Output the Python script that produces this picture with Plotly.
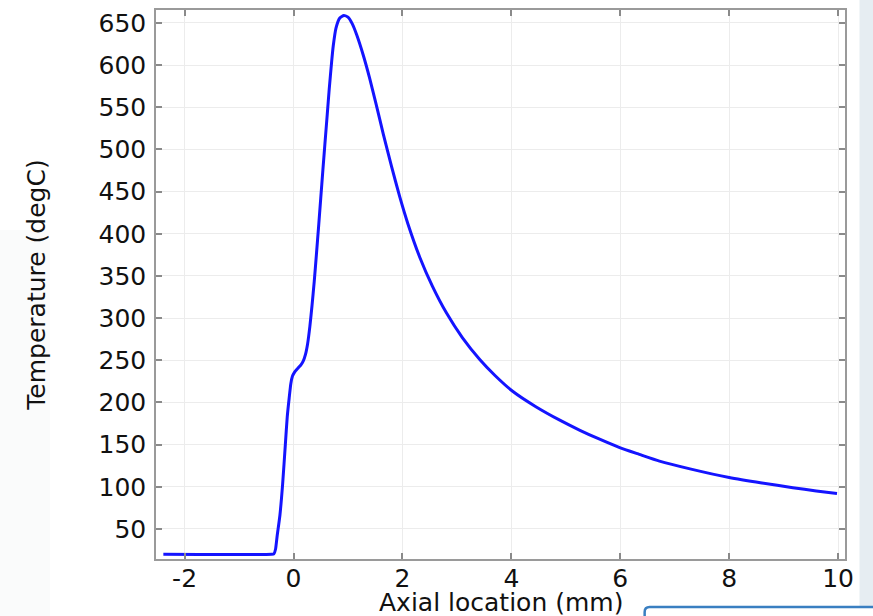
import plotly.graph_objects as go

# Axial location (mm)
axial_mm = [-2.39, -0.40, -0.36, -0.33, -0.30, -0.25, -0.20, -0.15, -0.115, -0.08,
            -0.05, -0.02, 0.02, 0.086, 0.14, 0.178, 0.22, 0.26, 0.30, 0.34,
            0.38, 0.42, 0.46, 0.50, 0.54, 0.576, 0.62, 0.655, 0.70, 0.73,
            0.78, 0.85, 0.925, 1.0, 1.08, 1.16, 1.28, 1.40, 1.52, 1.65,
            1.80, 1.95, 2.10, 2.32, 2.55, 2.81, 3.10, 3.42, 3.70, 4.03,
            4.45, 4.89, 5.26, 5.60, 5.99, 6.35, 6.72, 7.30, 8.0, 8.60,
            9.17, 9.60, 9.98]
# Temperature (degC)
temperature_c = [20, 20, 20.5, 26, 42, 66, 103, 150, 183, 205,
                 222, 231, 236, 241, 245, 249, 257, 270, 290, 315,
                 343, 375, 408, 442, 476, 506, 542, 571, 604, 623,
                 644, 656, 659, 657, 649, 636, 612, 584, 553, 518,
                 480, 444, 412, 372, 338, 306, 277, 251, 232, 213,
                 195, 179, 167, 157, 146.5, 138.5, 130.5, 121, 111, 104.5,
                 99, 95, 92]

x_ticks = [-2, 0, 2, 4, 6, 8, 10]
y_ticks = [50, 100, 150, 200, 250, 300, 350, 400, 450, 500, 550, 600, 650]

FONT = "DejaVu Sans"
TXT = "#111111"

fig = go.Figure()
fig.add_trace(go.Scatter(
    x=axial_mm, y=temperature_c, mode="lines",
    line=dict(color="#1414ff", width=3, shape="spline", smoothing=0.5),
    showlegend=False, hoverinfo="x+y"))

axis_common = dict(
    showline=True, linecolor="#9a9a9a", linewidth=1.5, mirror="ticks",
    ticks="inside", ticklen=6, tickwidth=1.5, tickcolor="#8a8a8a",
    showgrid=True, gridcolor="#ececec", gridwidth=1, zeroline=False,
    tickfont=dict(family=FONT, size=25, color=TXT),
)

fig.update_xaxes(
    range=[-2.525, 10.127], tickvals=x_ticks, ticktext=[str(v) for v in x_ticks],
    ticklabelstandoff=-4,
    **axis_common)
fig.update_yaxes(
    range=[14.4, 665.4], tickvals=y_ticks, ticktext=[str(v) for v in y_ticks],
    title=dict(text="Temperature (degC)", font=dict(family=FONT, size=25, color=TXT), standoff=46),
    ticklabelstandoff=3,
    **axis_common)

PW, PH = 689.5, 549.0
def px(xp):
    return (xp - 156) / PW
def py(yp):
    return (559 - yp) / PH

fig.update_layout(
    width=873, height=616,
    margin=dict(l=156, r=27.5, t=10, b=57, autoexpand=False),
    paper_bgcolor="white", plot_bgcolor="white",
    font=dict(family=FONT, size=25, color=TXT),
    annotations=[dict(
        text="Axial location (mm)", xref="paper", yref="paper",
        x=px(501), y=py(602), xanchor="center", yanchor="middle",
        showarrow=False, font=dict(family=FONT, size=25, color=TXT))],
    shapes=[
        dict(type="rect", xref="paper", yref="paper", layer="below",
             x0=px(860), x1=px(880), y0=py(620), y1=py(-5),
             fillcolor="#e6edf2", line=dict(width=0)),
        dict(type="rect", xref="paper", yref="paper", layer="below",
             x0=px(-5), x1=px(50), y0=py(620), y1=py(230),
             fillcolor="#fafbfb", line=dict(width=0)),
        dict(type="rect", xref="paper", yref="paper", layer="above",
             x0=px(645), x1=px(880), y0=py(620), y1=py(607),
             fillcolor="white", line=dict(width=0)),
        dict(type="path", xref="paper", yref="paper", layer="above",
             path=(f"M {px(645)},{py(620)} L {px(645)},{py(612)} "
                   f"Q {px(645)},{py(607)} {px(650)},{py(607)} L {px(880)},{py(607)}"),
             line=dict(color="#3a7fc1", width=2.5)),
    ],
)

fig.write_html("out.html", config={"displayModeBar": False},
               post_script="document.body.style.margin='0';")
